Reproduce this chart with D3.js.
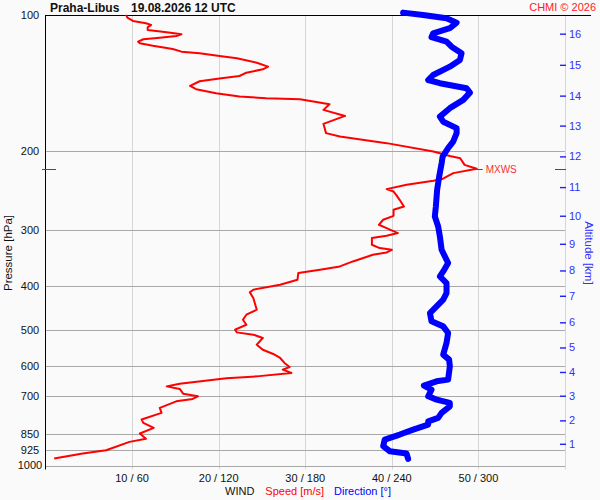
<!DOCTYPE html>
<html>
<head>
<meta charset="utf-8">
<script src="https://cdn.jsdelivr.net/npm/d3@7"></script>
<style>
  body { margin: 0; background: #fafafa; }
  svg { font-family: "Liberation Sans", Arial, sans-serif; }
</style>
</head>
<body>
<script>
// sounding values: pressure [hPa] and wind speed [m/s]
var speedPressure = [100, 101.5, 103.1, 104.3, 105.2, 106.5, 108, 109.2, 110.4, 111.3, 112.3, 113.2, 114.6, 115.5, 117, 119,
  120.6, 121.6, 123.3, 124.7, 127.6, 130.2, 132, 134.3, 136.6, 138.4, 140.3, 143.7, 146.1, 149.1, 151.7, 153, 153.8,
  157.8, 162.4, 167.5, 174.4, 182.9, 186.1, 192.5, 201, 205.5, 207.9, 215.1, 219.5, 224.4, 231.3, 233.4, 238.2, 243.5,
  246.5, 250.7, 257.2, 266.1, 270.6, 279.1, 284.8, 292.2, 297.2, 304.8, 309, 312.7, 323.6, 329.1, 332, 336.6, 340.6,
  352.4, 361.5, 367.7, 373.9, 387, 396.9, 407.2, 412.8, 424.8, 451, 462.7, 474.7, 487, 499.5, 506.4, 512.4, 521.1,
  539.3, 553.3, 565.5, 577.2, 592.1, 604.4, 612.7, 623.2, 634.1, 640.6, 658.2, 667.4, 676.2, 692.7, 702.2, 711.6,
  720.3, 745, 764.1, 790.7, 804.1, 824.9, 849.2, 872.6, 886.2, 925, 940.7, 965];
var speedValues = [9.3, 9.5, 10.1, 11.6, 12.2, 11.8, 11.8, 14.0, 15.7, 15.1, 13.2, 11.3, 10.7, 10.9, 12.4, 14.7,
  15.7, 17.8, 20.1, 22.1, 24.4, 25.7, 25.1, 23.2, 22.4, 20.1, 17.8, 16.7, 17.4, 19.7, 22.4, 25.5, 29.4,
  32.8, 32.1, 34.6, 32.1, 32.4, 34.0, 39.4, 44.8, 46.7, 47.9, 48.4, 49.8, 47.1, 45.8, 44.8, 41.7, 39.4,
  40.2, 40.5, 40.9, 41.4, 40.2, 40.2, 39.0, 38.5, 39.4, 40.7, 39.4, 37.7, 37.7, 38.6, 40.0, 39.4, 37.8,
  35.5, 34.0, 31.7, 29.2, 29.1, 27.1, 24.0, 23.6, 24.0, 24.4, 23.2, 22.8, 23.2, 21.9, 22.1, 24.0, 25.1,
  24.4, 25.1, 26.3, 27.1, 27.6, 28.2, 27.4, 28.4, 24.4, 20.9, 15.5, 14.0, 15.5, 15.9, 17.6, 17.0,
  15.1, 13.2, 13.4, 11.1, 11.3, 12.5, 10.9, 11.6, 9.7, 7.0, 4.3, 1.0];

// pressure [hPa] and wind direction [deg]
var dirPressure = [98.8, 100, 101.7, 104, 107, 109.8, 112, 114.6, 117.6, 121.6, 125.8, 130.2, 135.9, 139.4, 141.7,
  145.4, 148.7, 154.3, 161, 168.1, 172.5, 178.3, 182.9, 191, 197.5, 206.2, 213.3, 228.4, 244.3, 266.1, 280.1,
  294.7, 310.1, 332, 355.3, 370.9, 380.5, 393.5, 414.2, 428.5, 443.5, 458.7, 478.6, 491.1, 508, 534.5, 567.3,
  582.1, 602.5, 644.8, 650.4, 664.9, 678.7, 702.2, 714.2, 726.2, 738.9, 764.1, 784, 797.8, 811.3, 832.3, 853.7,
  875.8, 906.2, 929.7, 940.7, 966.6];
var dirValues = [247.8, 261.7, 277.9, 284.9, 280.2, 268.6, 267.5, 277.9, 281.4, 288.3, 287.2, 280.2, 268.6, 265.2, 273.3,
  291.8, 294.1, 289.5, 280.2, 273.3, 275.6, 284.9, 284.9, 282.5, 279.0, 275.2, 274.5, 272.8, 271.4, 270.5, 269.8,
  272.1, 273.3, 274.5, 279.0, 275.6, 273.3, 277.9, 277.9, 275.6, 271.0, 266.4, 267.5, 275.6, 279.0, 277.9, 275.6,
  279.7, 280.2, 279.0, 271.0, 262.2, 267.5, 265.2, 271.0, 280.2, 280.2, 274.5, 272.1, 265.2, 265.2, 254.8, 245.5,
  235.1, 234.0, 238.6, 250.2, 251.3];

var pressureTicks = [100, 200, 300, 400, 500, 600, 700, 850, 925, 1000];
var speedTicks = [10, 20, 30, 40, 50, 60];
var speedLabels = ["10 / 60", "20 / 120", "30 / 180", "40 / 240", "50 / 300"];
var altitudeKm = [1, 2, 3, 4, 5, 6, 7, 8, 9, 10, 11, 12, 13, 14, 15, 16];
var altitudePressure = [895, 794, 700, 620, 547, 481, 420, 369, 322, 279, 241, 206, 176, 151, 129, 110];

var W = 600, H = 500,
    plotLeft = 45, plotRight = 565, plotTop = 15, plotBottom = 465.5;

var svg = d3.select("body").append("svg")
    .attr("width", W)
    .attr("height", H);

svg.append("rect").attr("width", W).attr("height", H).attr("fill", "#fafafa");

var y = d3.scaleLog().domain([100, 1000]).range([plotTop, plotBottom]);
var xSpeed = d3.scaleLinear().domain([0, 60]).range([plotLeft + 0.5, plotRight]);
var xDir = d3.scaleLinear().domain([0, 360]).range([plotLeft + 0.5, plotRight]);

// vertical grid (speed)
svg.selectAll(".vgrid")
    .data(speedTicks)
    .enter().append("line")
    .attr("x1", function (d) { return Math.round(xSpeed(d)) + 0.5; })
    .attr("x2", function (d) { return Math.round(xSpeed(d)) + 0.5; })
    .attr("y1", plotTop)
    .attr("y2", plotBottom + 4)
    .attr("stroke", "#d6d6d6")
    .attr("stroke-width", 1);

// horizontal grid (pressure)
svg.selectAll(".hgrid")
    .data(pressureTicks.slice(1))
    .enter().append("line")
    .attr("x1", plotLeft)
    .attr("x2", plotRight)
    .attr("y1", function (d) { return Math.round(y(d)) + 0.5; })
    .attr("y2", function (d) { return Math.round(y(d)) + 0.5; })
    .attr("stroke", "#a8a8a8")
    .attr("stroke-width", 1);

// frame: top line and left axis
svg.append("line")
    .attr("x1", plotLeft).attr("x2", 591)
    .attr("y1", plotTop + 0.5).attr("y2", plotTop + 0.5)
    .attr("stroke", "#000");
svg.append("line")
    .attr("x1", plotLeft + 0.5).attr("x2", plotLeft + 0.5)
    .attr("y1", plotTop).attr("y2", plotBottom + 4)
    .attr("stroke", "#000");

// pressure labels
svg.selectAll(".plab")
    .data(pressureTicks)
    .enter().append("text")
    .attr("x", 30)
    .attr("y", function (d) { return y(d); })
    .attr("dy", "0.36em")
    .attr("text-anchor", "middle")
    .style("font-size", "11px")
    .attr("fill", "#111")
    .text(function (d) { return d; });

svg.append("text")
    .attr("transform", "translate(12,253) rotate(-90)")
    .attr("text-anchor", "middle")
    .style("font-size", "11.5px")
    .attr("fill", "#111")
    .text("Pressure [hPa]");

// speed / direction labels
svg.selectAll(".slab")
    .data(speedLabels)
    .enter().append("text")
    .attr("x", function (d, i) { return xSpeed(speedTicks[i]); })
    .attr("y", 482)
    .attr("text-anchor", "middle")
    .style("font-size", "11px")
    .attr("fill", "#111")
    .text(function (d) { return d; });

var legend = svg.append("text")
    .attr("x", 225)
    .attr("y", 495)
    .style("font-size", "11px");
legend.append("tspan").attr("fill", "#111").text("WIND");
legend.append("tspan").attr("fill", "#ff0000").attr("dx", 11).text("Speed [m/s]");
legend.append("tspan").attr("fill", "#0000ff").attr("dx", 10).text("Direction [°]");

// altitude axis on the right
var altAxis = d3.axisRight(y)
    .tickValues(altitudePressure)
    .tickFormat(function (d, i) { return altitudeKm[i]; })
    .tickSize(6)
    .tickPadding(3);

var ag = svg.append("g")
    .attr("transform", "translate(560,0)")
    .call(altAxis);
ag.select(".domain").remove();
ag.selectAll("line").attr("stroke", "#2020ff").attr("stroke-width", 1.4);
ag.selectAll("text")
    .attr("fill", "#3030ff")
    .style("font-size", "11px")
    .style("font-family", "Liberation Sans, Arial, sans-serif");

svg.append("text")
    .attr("transform", "translate(585,253) rotate(90)")
    .attr("text-anchor", "middle")
    .style("font-size", "11.5px")
    .attr("fill", "#3030ff")
    .text("Altitude [km]");

// wind speed profile
var speedData = speedPressure.map(function (p, i) { return { p: p, v: speedValues[i] }; });
var dirData = dirPressure.map(function (p, i) { return { p: p, v: dirValues[i] }; });

svg.append("path")
    .datum(speedData)
    .attr("fill", "none")
    .attr("stroke", "#ff0000")
    .attr("stroke-width", 2)
    .attr("stroke-linejoin", "round")
    .attr("d", d3.line()
        .x(function (d) { return xSpeed(d.v); })
        .y(function (d) { return y(d.p); }));

// maximum wind marker
var mx = speedData.reduce(function (a, b) { return b.v > a.v ? b : a; });
var my = Math.round(y(mx.p)) + 0.5;
svg.append("line")
    .attr("x1", xSpeed(mx.v)).attr("x2", xSpeed(mx.v) + 6)
    .attr("y1", my).attr("y2", my)
    .attr("stroke", "#ff0000");
svg.append("text")
    .attr("x", xSpeed(mx.v) + 9)
    .attr("y", my + 3.5)
    .style("font-size", "10px")
    .attr("fill", "#ff3030")
    .text("MXWS");
svg.append("line")
    .attr("x1", 42).attr("x2", 56)
    .attr("y1", my).attr("y2", my)
    .attr("stroke", "#ff0000");
svg.append("line")
    .attr("x1", 555).attr("x2", 566)
    .attr("y1", my).attr("y2", my)
    .attr("stroke", "#ff0000");

// wind direction profile
svg.append("path")
    .datum(dirData)
    .attr("fill", "none")
    .attr("stroke", "#0000ff")
    .attr("stroke-width", 6)
    .attr("stroke-linejoin", "round")
    .attr("stroke-linecap", "round")
    .attr("d", d3.line()
        .x(function (d) { return xDir(d.v); })
        .y(function (d) { return y(d.p); }));

// titles
svg.append("text")
    .attr("x", 50).attr("y", 12)
    .style("font-size", "12px")
    .style("font-weight", "bold")
    .attr("fill", "#111")
    .text("Praha-Libus");
svg.append("text")
    .attr("x", 131).attr("y", 12)
    .style("font-size", "12px")
    .style("font-weight", "bold")
    .attr("fill", "#111")
    .text("19.08.2026 12 UTC");
svg.append("text")
    .attr("x", 596).attr("y", 11)
    .attr("text-anchor", "end")
    .style("font-size", "11px")
    .attr("fill", "#ff2020")
    .text("CHMI © 2026");
</script>
</body>
</html>
